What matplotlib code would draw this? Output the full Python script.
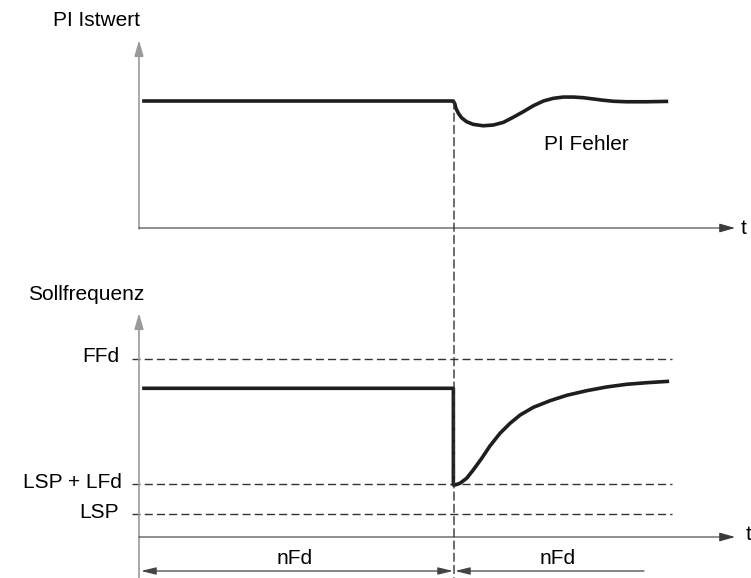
import matplotlib
matplotlib.use("Agg")
import matplotlib.pyplot as plt
from matplotlib.patches import ConnectionPatch

plt.rcParams['font.family'] = ['Liberation Sans', 'DejaVu Sans']

# ---------------- data (arbitrary time / value units) ----------------
t_fault = 10.0

# PI actual value (top chart)
t_pi = [0.1, 9.98, 10.03, 10.06, 10.14, 10.24, 10.40, 10.61, 10.93, 11.25, 11.57,
        11.88, 12.20, 12.52, 12.84, 13.15, 13.47, 13.79, 14.10, 14.42, 14.74,
        15.06, 15.48, 16.12, 16.80]
pi_val = [1.0, 1.0, 0.975, 0.943, 0.903, 0.868, 0.837, 0.816, 0.805, 0.811, 0.832,
          0.872, 0.916, 0.963, 1.0, 1.021, 1.031, 1.031, 1.026, 1.016, 1.006,
          0.998, 0.994, 0.994, 0.997]

# Set-point frequency (bottom chart)
t_f = [0.1, 9.98, 9.98, 10.03, 10.19, 10.40, 10.61, 10.88, 11.14, 11.46, 11.78,
       12.10, 12.52, 13.05, 13.58, 14.21, 14.84, 15.48, 16.12, 16.83]
f_val = [1.487, 1.487, 0.52, 0.52, 0.537, 0.587, 0.67, 0.787, 0.91, 1.037, 1.137,
         1.22, 1.297, 1.363, 1.417, 1.463, 1.50, 1.527, 1.543, 1.557]

ffd = 1.78
lsp_lfd = 0.53
lsp = 0.23

# ---------------- layout ----------------
W, H = 751, 578
fig = plt.figure(figsize=(W / 100, H / 100), dpi=100)

X0 = 139.0      # px of t=0
SX = 31.5       # px per time unit

def fx(px):
    return px / W

def fy(py):
    return 1 - py / H

# top axes covers rows 0..260 px, value 0 at row 228, 127 px per unit
ax1 = fig.add_axes([0, fy(260), 1, 260 / H])
ax1.set_xlim(-X0 / SX, (W - X0) / SX)
ax1.set_ylim((228 - 260) / 127, 228 / 127)
ax1.axis('off')

# bottom axes covers rows 260..578 px, value 0 at row 537, 100 px per unit
ax2 = fig.add_axes([0, 0, 1, (H - 260) / H])
ax2.set_xlim(-X0 / SX, (W - X0) / SX)
ax2.set_ylim((537 - H) / 100, (537 - 260) / 100)
ax2.axis('off')

sig_kw = dict(color='#1e1e1e', lw=2.6, solid_joinstyle='round', solid_capstyle='butt')
dash_kw = dict(color='#333333', lw=1.0, dashes=(5.8, 3.0))

t_axis_end = (735 - X0) / SX

def arrow(ax, start, end, color, lw, style='-|>', hl=0.95, hw=0.27):
    ax.annotate('', xy=end, xytext=start, xycoords='data', textcoords='data',
                arrowprops=dict(arrowstyle=f'{style},head_length={hl},head_width={hw}',
                                mutation_scale=10, color=color, lw=lw,
                                shrinkA=0, shrinkB=0),
                annotation_clip=False)

# ----- top chart -----
arrow(ax1, (0, (228 - 229) / 127), (0, (228 - 40) / 127), '#9a9a9a', 1.2)
arrow(ax1, (0, 0), (t_axis_end, 0), '#3a3a3a', 0.8)
ax1.plot(t_pi, pi_val, **sig_kw)

# ----- bottom chart -----
arrow(ax2, (0, (537 - H) / 100), (0, (537 - 313) / 100), '#9a9a9a', 1.2)
arrow(ax2, (0, 0), (t_axis_end, 0), '#3a3a3a', 0.8)
x_dash0 = (132 - X0) / SX
x_dash1 = (672 - X0) / SX
for lev in (ffd, lsp_lfd, lsp):
    ax2.plot([x_dash0, x_dash1], [lev, lev], **dash_kw)
ax2.plot(t_f, f_val, **sig_kw)

# nFd arrows
y_n = (537 - 571) / 100
arrow(ax2, ((141 - X0) / SX, y_n), ((453 - X0) / SX, y_n), '#444444', 0.9,
      style='<|-|>', hl=0.9, hw=0.22)
arrow(ax2, ((644 - X0) / SX, y_n), ((455 - X0) / SX, y_n), '#444444', 0.9,
      style='-|>', hl=0.9, hw=0.22)

# vertical dashed fault line through both charts
con = ConnectionPatch(xyA=(t_fault, 1.0), coordsA=ax1.transData,
                      xyB=(t_fault, (537 - H) / 100), coordsB=ax2.transData,
                      color='#333333', lw=1.0, linestyle=(0, (5.8, 3.0)))
fig.add_artist(con)

# ----- texts -----
fs = 15
fig.text(fx(53), fy(20), 'PI Istwert', fontsize=fs, ha='left', va='center')
fig.text(fx(586), fy(145), 'PI Fehler', fontsize=fs, ha='center', va='center')
fig.text(fx(741), fy(228), 't', fontsize=fs, ha='left', va='center')
fig.text(fx(28), fy(294), 'Sollfrequenz', fontsize=fs, ha='left', va='center')
fig.text(fx(119), fy(356), 'FFd', fontsize=fs, ha='right', va='center')
fig.text(fx(122), fy(482), 'LSP + LFd', fontsize=fs, ha='right', va='center')
fig.text(fx(119), fy(512), 'LSP', fontsize=fs, ha='right', va='center')
fig.text(fx(746), fy(535), 't', fontsize=fs, ha='left', va='center')
fig.text(fx(295), fy(558), 'nFd', fontsize=fs, ha='center', va='center')
fig.text(fx(558), fy(558), 'nFd', fontsize=fs, ha='center', va='center')

fig.savefig('out.png', dpi=100)
